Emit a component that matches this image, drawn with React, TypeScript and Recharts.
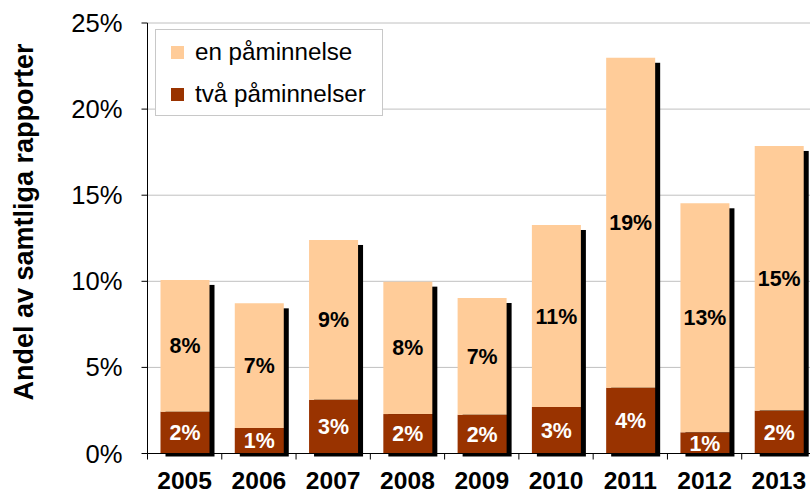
import React from "react"
import { BarChart, Bar, XAxis, YAxis, CartesianGrid, Legend, LabelList } from "recharts"

const years = ["2005", "2006", "2007", "2008", "2009", "2010", "2011", "2012", "2013"]
const enPaminnelse = [7.65, 7.24, 9.28, 7.69, 6.78, 10.57, 19.16, 13.3, 15.37]
const tvaPaminnelser = [2.43, 1.48, 3.12, 2.29, 2.25, 2.7, 3.82, 1.23, 2.49]
const yTicks = [0, 5, 10, 15, 20, 25]
const seriesNames = ["en påminnelse", "två påminnelser"]
const yTitle = "Andel av samtliga rapporter"

const data = years.map((year, i) => ({
  year,
  one: enPaminnelse[i],
  two: tvaPaminnelser[i],
}))

const FONT = "'Liberation Sans', Arial, sans-serif"
const LIGHT = "#FFCC99"
const DARK = "#993300"

const CHART_W = 816
const CHART_H = 494
const AXIS_W = 147.5
const BAND = (CHART_W - AXIS_W) / years.length

// bottom segment also paints the drop shadow for the whole stack
const ShadowBar = (props: any) => {
  const { x, y, width, height, payload, fill } = props
  const perUnit = height / payload.two
  const totalH = perUnit * (payload.one + payload.two)
  const base = y + height
  return (
    <g>
      <rect x={x + 5} y={base - totalH + 5} width={width} height={totalH - 2} fill="#000" />
      <rect x={x} y={y} width={width} height={height} fill={fill} />
    </g>
  )
}

const XTick = (props: any) => {
  const { x, y, payload } = props
  return (
    <g>
      <line x1={x - BAND / 2} x2={x - BAND / 2} y1={y} y2={y + 6} stroke="#000" />
      <text x={x} y={y + 35} textAnchor="middle" fontFamily={FONT} fontWeight="bold" fontSize={24.6} fill="#000">
        {payload.value}
      </text>
    </g>
  )
}

const YTitle = () => (
  <text
    transform="translate(33,222) rotate(-90)"
    textAnchor="middle"
    fontFamily={FONT}
    fontWeight="bold"
    fontSize={27}
    fill="#000"
  >
    {yTitle}
  </text>
)

const LegendBox = () => {
  const colors = [LIGHT, DARK]
  return (
    <div
      style={{
        width: 226,
        height: 84,
        border: "1px solid #c8c8c8",
        background: "#fff",
        paddingTop: 1,
        fontFamily: FONT,
        fontSize: 24.2,
        color: "#000",
      }}
    >
      {seriesNames.map((name, i) => (
        <div key={name} style={{ height: 42, display: "flex", alignItems: "center" }}>
          <span style={{ width: 13, height: 13, background: colors[i], marginLeft: 15, marginRight: 11 }} />
          <span>{name}</span>
        </div>
      ))}
    </div>
  )
}

export default function App() {
  return (
    <div style={{ position: "absolute", left: 0, top: 0, width: 810, height: 494, overflow: "hidden", background: "#fff" }}>
      <BarChart width={CHART_W} height={CHART_H} data={data} margin={{ top: 23, right: 0, bottom: 0, left: 0 }} barSize={49}>
        <CartesianGrid vertical={false} stroke="#c0c0c0" />
        <XAxis
          dataKey="year"
          height={40.5}
          axisLine={{ stroke: "#000" }}
          tickLine={false}
          tickSize={0}
          tickMargin={0}
          tick={<XTick />}
          interval={0}
        />
        <YAxis
          width={AXIS_W}
          domain={[0, 25]}
          ticks={yTicks}
          tickFormatter={(v: number) => `${v}%`}
          axisLine={{ stroke: "#000" }}
          tickLine={{ stroke: "#000" }}
          tickSize={6}
          tickMargin={19}
          tick={{ fill: "#000", fontSize: 25.6, fontFamily: FONT }}
          label={<YTitle />}
        />
        <Legend
          layout="horizontal"
          verticalAlign="middle"
          align="center"
          wrapperStyle={{ left: 155, top: 29, width: 228 }}
          content={<LegendBox />}
        />
        <Bar dataKey="two" name={seriesNames[1]} stackId="a" fill={DARK} shape={<ShadowBar />} isAnimationActive={false}>
          <LabelList
            dataKey="two"
            position="center"
            formatter={(v: any) => `${Math.round(Number(v))}%`}
            style={{ fill: "#fff", fontWeight: "bold", fontSize: 21.4, fontFamily: FONT }}
          />
        </Bar>
        <Bar dataKey="one" name={seriesNames[0]} stackId="a" fill={LIGHT} isAnimationActive={false}>
          <LabelList
            dataKey="one"
            position="center"
            formatter={(v: any) => `${Math.round(Number(v))}%`}
            style={{ fill: "#000", fontWeight: "bold", fontSize: 21.4, fontFamily: FONT }}
          />
        </Bar>
      </BarChart>
    </div>
  )
}
